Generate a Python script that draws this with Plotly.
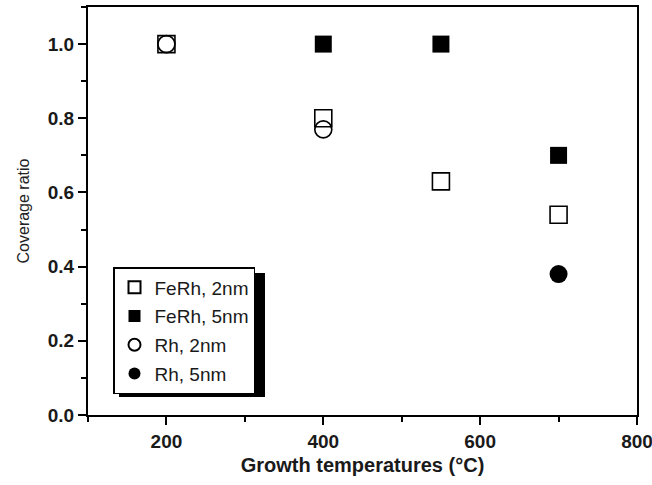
import plotly.graph_objects as go

# Data
feRh2_x = [200, 400, 550, 700]
feRh2_y = [1.0, 0.80, 0.63, 0.54]
feRh5_x = [400, 550, 700]
feRh5_y = [1.0, 1.0, 0.70]
rh2_x = [200, 400]
rh2_y = [1.0, 0.77]
rh5_x = [700]
rh5_y = [0.38]

fig = go.Figure()
common_line = dict(color="black", width=1.6)
fig.add_trace(go.Scatter(x=feRh2_x, y=feRh2_y, mode="markers", name="FeRh, 2nm", legendgroup="a",
                         marker=dict(symbol="square-open", size=17, color="black", line=common_line)))
fig.add_trace(go.Scatter(x=feRh5_x, y=feRh5_y, mode="markers", name="FeRh, 5nm", legendgroup="b",
                         marker=dict(symbol="square", size=17, color="black", line=dict(color="black", width=0))))
fig.add_trace(go.Scatter(x=rh2_x, y=rh2_y, mode="markers", name="Rh, 2nm", legendgroup="c",
                         marker=dict(symbol="circle-open", size=17, color="black", line=common_line)))
fig.add_trace(go.Scatter(x=rh5_x, y=rh5_y, mode="markers", name="Rh, 5nm", legendgroup="d",
                         marker=dict(symbol="circle", size=18, color="black", line=dict(color="black", width=0))))

L, R, T, B = 88, 637, 7, 415
W, H = 652, 485
pw, ph = R - L, B - T

def px(xp):
    return (xp - L) / pw

def py(yp):
    return (B - yp) / ph

fig.add_shape(type="rect", xref="paper", yref="paper",
              x0=px(119), x1=px(265), y0=py(397), y1=py(273),
              fillcolor="black", line=dict(width=0), layer="above")

tickfont = dict(family="Liberation Sans, Arial", size=19, color="#1a1a1a", weight="bold")
axis_common = dict(showline=True, linecolor="black", linewidth=2, mirror=True,
                   ticks="outside", ticklen=8, tickwidth=2, tickcolor="black",
                   showgrid=False, zeroline=False, tickfont=tickfont,
                   ticklabeloverflow="allow", automargin=False)

fig.update_xaxes(range=[100, 800], tickvals=[200, 400, 600, 800],
                 minor=dict(ticks="outside", ticklen=5, tickwidth=2, tickcolor="black", dtick=100, tick0=0),
                 title=dict(text="Growth temperatures (°C)", standoff=7,
                            font=dict(family="Liberation Sans, Arial", size=20, color="#1a1a1a", weight="bold")),
                 **axis_common)
fig.update_yaxes(range=[0, 1.1], tickvals=[0, 0.2, 0.4, 0.6, 0.8, 1.0], tickformat=".1f",
                 minor=dict(ticks="outside", ticklen=5, tickwidth=2, tickcolor="black", dtick=0.1, tick0=0),
                 title=dict(text="Coverage ratio", standoff=14,
                            font=dict(family="Liberation Sans, Arial", size=16, color="#222222")),
                 **axis_common)

fig.update_layout(
    width=W, height=H,
    margin=dict(l=L, r=W - R, t=T, b=H - B, autoexpand=False),
    paper_bgcolor="white", plot_bgcolor="white",
    showlegend=True,
    legend=dict(x=px(113), y=py(267), xanchor="left", yanchor="top",
                bgcolor="white", bordercolor="black", borderwidth=1.5,
                font=dict(family="Liberation Sans, Arial", size=19, color="#1a1a1a"),
                tracegroupgap=1, itemsizing="constant"),
)

fig.write_html("out.html")
